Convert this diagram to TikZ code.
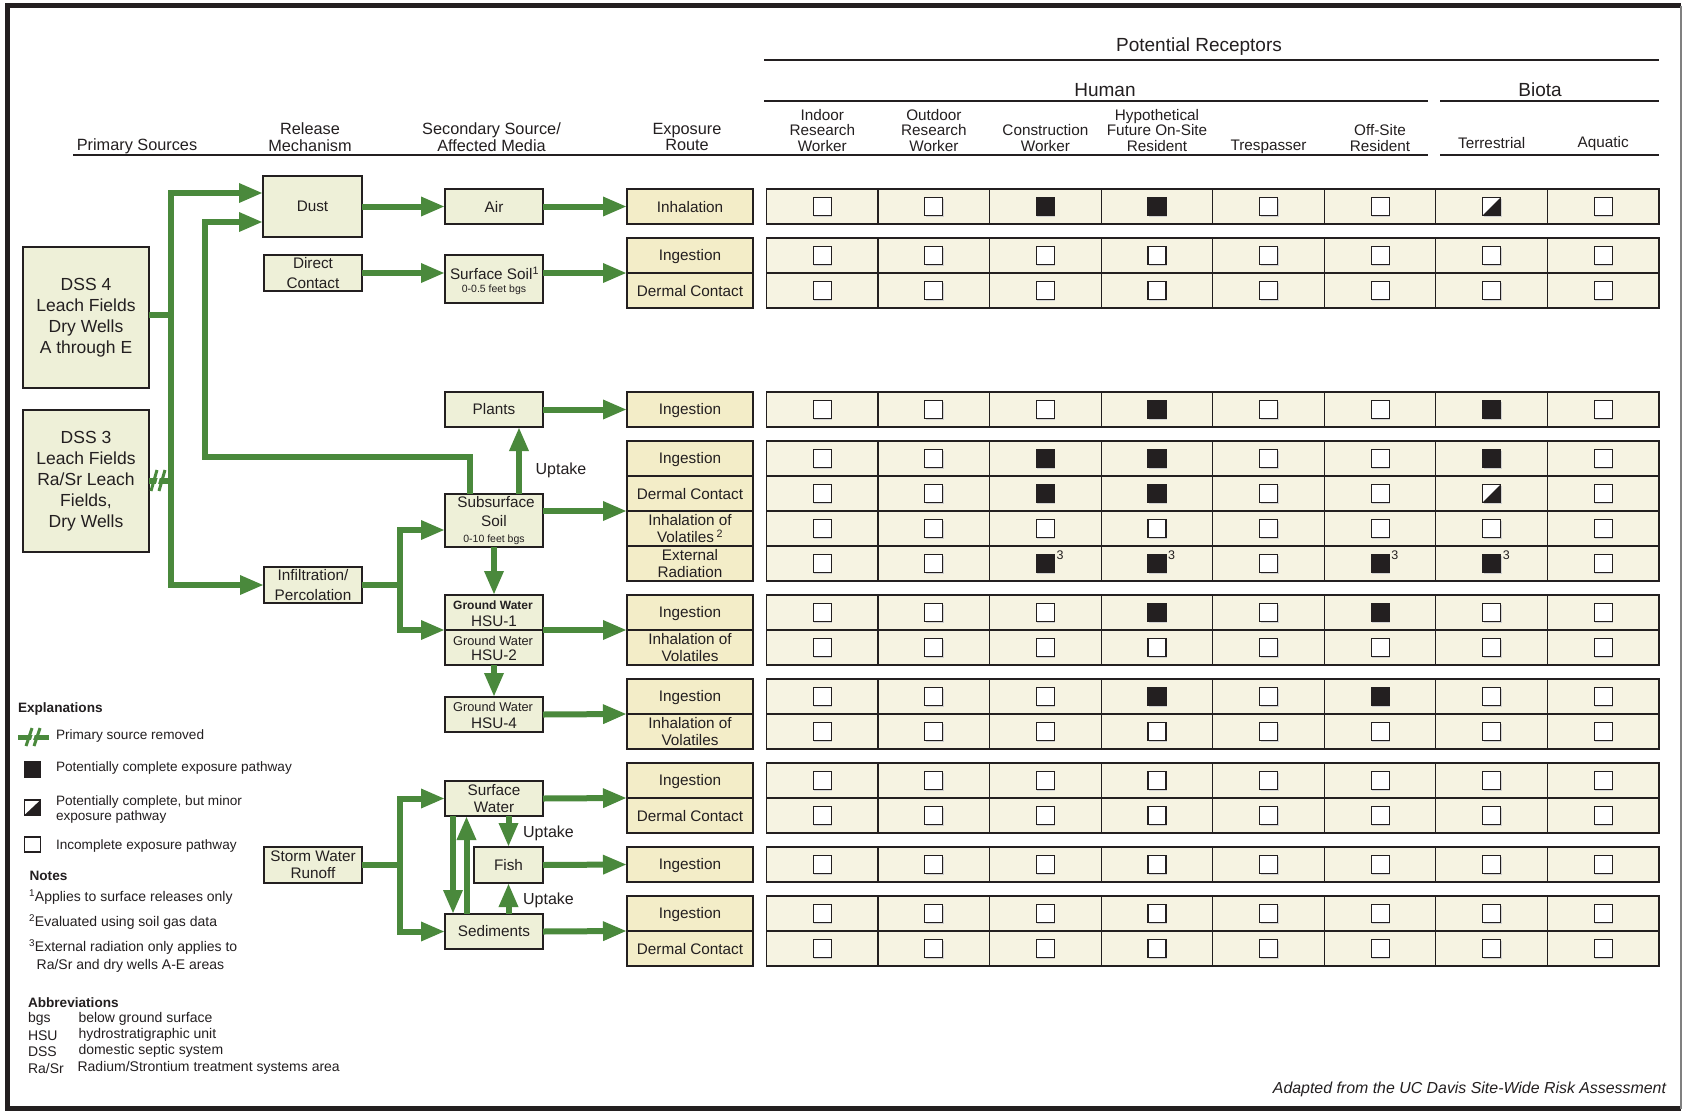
\documentclass[tikz,border=0pt]{standalone}
\usepackage{fontspec}
\setmainfont{Liberation Sans}
\usetikzlibrary{arrows.meta}
\definecolor{grn}{HTML}{4A893C}
\definecolor{ink}{HTML}{231F20}
\definecolor{boxfill}{HTML}{EEF0D8}
\definecolor{expfill}{HTML}{F3EDC8}
\definecolor{cellfill}{HTML}{F6F3E2}
\newcommand{\fsz}[2]{\fontsize{#1}{#2}\selectfont}
\tikzset{
  srcbox/.style={draw=ink, line width=1.2pt, fill=boxfill, inner sep=0pt, outer sep=0pt, align=center, text=ink, font=\fsz{15.3}{17}},
  expbox/.style={draw=ink, line width=1.2pt, fill=expfill, inner sep=0pt, outer sep=0pt, minimum width=126pt},
  lbl/.style={inner sep=0pt, outer sep=0pt, text=ink, align=center, font=\fsz{15.3}{17}},
  leg/.style={inner sep=0pt, outer sep=0pt, text=ink, align=left, anchor=west, font=\fsz{13.6}{15.6}},
  flowline/.style={draw=grn, line width=6pt},
  flowarr/.style={flowline, -{Triangle[length=24pt,width=18pt]}},
  flowboth/.style={flowline, {Triangle[length=24pt,width=18pt]}-{Triangle[length=24pt,width=18pt]}},
  cellbox/.style={fill=cellfill, draw=ink, line width=1.2pt},
  mk/.style={draw=ink, line width=1.1pt},
  divline/.style={draw=ink, line width=1.2pt},
}
\newcommand{\cellrow}[2]{%
  \foreach \cc [count=\ii from 0] in {#2} {%
    \pgfmathsetmacro{\xa}{766.5+111.56*\ii}%
    \pgfmathsetmacro{\xm}{\xa+55.78}%
    \draw[cellbox] (\xa,#1) rectangle ++(111.56,35);%
    \fill[black!18] (\xm-8,#1+9.5) rectangle ++(18,18);%
    \ifcase\cc\relax
      \filldraw[mk, fill=white] (\xm-9,#1+8.5) rectangle ++(18,18);%
    \or
      \filldraw[mk, fill=ink] (\xm-9,#1+8.5) rectangle ++(18,18);%
    \or
      \filldraw[mk, fill=white] (\xm-9,#1+8.5) rectangle ++(18,18);%
      \fill[ink] (\xm-9,#1+26.5) -- (\xm+9,#1+8.5) -- (\xm+9,#1+26.5) -- cycle;%
      \draw[mk] (\xm-9,#1+8.5) rectangle ++(18,18);%
    \or
      \filldraw[mk, fill=ink] (\xm-9,#1+8.5) rectangle ++(18,18);%
      \node[anchor=west, inner sep=0pt, font=\fsz{12.5}{13}, text=ink, name=s#1x\ii] at (\xm+11,#1+9) {3};%
    \fi
  }%
}
\begin{document}
\begin{tikzpicture}[x=1pt,y=-1pt]
\useasboundingbox (0,0) rectangle (1684,1111);
\fill[white] (0,0) rectangle (1684,1111);
% frame
\draw[ink, line width=4.5pt] (1681,5.5) -- (7.5,5.5) -- (7.5,1108.5) -- (1681,1108.5);
\draw[black!50, line width=1.5pt] (1681,5.5) -- (1681,1108.5);

% ---------- headers ----------
\node[lbl, font=\fsz{16.3}{16.7}, anchor=base] (hps) at (137,150.7) {Primary Sources};
\node[lbl, font=\fsz{16.3}{16.7}] (hrm) at (310,137) {Release\\Mechanism};
\node[lbl, font=\fsz{16.3}{16.7}] (hss) at (491.5,137) {Secondary Source/\\Affected Media};
\node[lbl, font=\fsz{16.3}{16.7}] (her) at (687,137) {Exposure\\Route};
\draw[ink, line width=2.5pt] (73,155) -- (1428,155);
\draw[ink, line width=2.5pt] (1440,155) -- (1659,155);
\node[lbl, font=\fsz{19}{20}] (hpr) at (1199,47) {Potential Receptors};
\draw[ink, line width=1.8pt] (764,60) -- (1659,60);
\node[lbl, font=\fsz{19}{20}] (hhu) at (1105,90) {Human};
\node[lbl, font=\fsz{19}{20}] (hbi) at (1540,90) {Biota};
\draw[ink, line width=1.8pt] (764,101) -- (1428,101);
\draw[ink, line width=1.8pt] (1440,101) -- (1659,101);
\node[lbl, font=\fsz{15.3}{15.5}] (c1) at (822.3,130.5) {Indoor\\Research\\Worker};
\node[lbl, font=\fsz{15.3}{15.5}] (c2) at (933.9,130.5) {Outdoor\\Research\\Worker};
\node[lbl, font=\fsz{15.3}{15.5}] (c3) at (1045.4,138) {Construction\\Worker};
\node[lbl, font=\fsz{15.3}{15.5}] (c4) at (1157,130.5) {Hypothetical\\Future On-Site\\Resident};
\node[lbl, font=\fsz{15.3}{15.5}] (c5) at (1268.5,147) {Trespasser};
\node[lbl, font=\fsz{15.3}{15.5}] (c6) at (1380,138) {Off-Site\\Resident};
\node[lbl, font=\fsz{15.3}{15.5}] (c7) at (1491.7,143.5) {Terrestrial};
\node[lbl, font=\fsz{15.3}{15.5}] (c8) at (1603.2,143.5) {Aquatic};

% ---------- receptor table ----------
\cellrow{189}{0,0,1,1,0,0,2,0}
\cellrow{238}{0,0,0,0,0,0,0,0}
\cellrow{273}{0,0,0,0,0,0,0,0}
\cellrow{392}{0,0,0,1,0,0,1,0}
\cellrow{441}{0,0,1,1,0,0,1,0}
\cellrow{476}{0,0,1,1,0,0,2,0}
\cellrow{511}{0,0,0,0,0,0,0,0}
\cellrow{546}{0,0,3,3,0,3,3,0}
\cellrow{595}{0,0,0,1,0,1,0,0}
\cellrow{630}{0,0,0,0,0,0,0,0}
\cellrow{679}{0,0,0,1,0,1,0,0}
\cellrow{714}{0,0,0,0,0,0,0,0}
\cellrow{763}{0,0,0,0,0,0,0,0}
\cellrow{798}{0,0,0,0,0,0,0,0}
\cellrow{847}{0,0,0,0,0,0,0,0}
\cellrow{896}{0,0,0,0,0,0,0,0}
\cellrow{931}{0,0,0,0,0,0,0,0}

% ---------- exposure route boxes ----------
\node[expbox, minimum height=35pt] (e1) at (690,206.5) {};
\node[expbox, minimum height=70pt] (e2) at (690,273) {};
\node[expbox, minimum height=35pt] (e3) at (690,409.5) {};
\node[expbox, minimum height=140pt] (e4) at (690,511) {};
\node[expbox, minimum height=70pt] (e5) at (690,630) {};
\node[expbox, minimum height=70pt] (e6) at (690,714) {};
\node[expbox, minimum height=70pt] (e7) at (690,798) {};
\node[expbox, minimum height=35pt] (e8) at (690,864.5) {};
\node[expbox, minimum height=70pt] (e9) at (690,931) {};
\foreach \yy/\gg in {273/e2, 476/e4, 511/e4, 546/e4, 630/e5, 714/e6, 798/e7, 931/e9}
  \draw[divline] (\gg.west |- 0,\yy) -- (\gg.east |- 0,\yy);
\node[lbl] (r1) at (690,207) {Inhalation};
\node[lbl] (r2) at (690,256.5) {Ingestion};
\node[lbl] (r3) at (690,291) {Dermal Contact};
\node[lbl] (r4) at (690,410.5) {Ingestion};
\node[lbl] (r5) at (690,459.5) {Ingestion};
\node[lbl] (r6) at (690,494) {Dermal Contact};
\node[lbl] (r7) at (690,528.5) {Inhalation of\\Volatiles\,\textsuperscript{2}};
\node[lbl] (r8) at (690,563.5) {External\\Radiation};
\node[lbl] (r9) at (690,613.5) {Ingestion};
\node[lbl] (r10) at (690,647.5) {Inhalation of\\Volatiles};
\node[lbl] (r11) at (690,697.5) {Ingestion};
\node[lbl] (r12) at (690,731.5) {Inhalation of\\Volatiles};
\node[lbl] (r13) at (690,781.5) {Ingestion};
\node[lbl] (r14) at (690,816) {Dermal Contact};
\node[lbl] (r15) at (690,865.5) {Ingestion};
\node[lbl] (r16) at (690,914.5) {Ingestion};
\node[lbl] (r17) at (690,949) {Dermal Contact};

% ---------- source / media boxes ----------
\node[srcbox, font=\fsz{17.5}{21}, minimum width=126pt, minimum height=141pt] (dss4) at (86,317.5) {DSS 4\\Leach Fields\\Dry Wells\\A through E};
\node[srcbox, font=\fsz{17.5}{21}, minimum width=126pt, minimum height=142pt] (dss3) at (86,481) {DSS 3\\Leach Fields\\Ra/Sr Leach\\Fields,\\Dry Wells};
\node[srcbox, minimum width=99pt, minimum height=61pt] (dust) at (312.5,206.5) {Dust};
\node[srcbox, font=\fsz{15.3}{19.4}, minimum width=98pt, minimum height=36pt] (dc) at (313,273) {Direct\\Contact};
\node[srcbox, font=\fsz{15.3}{19.3}, minimum width=98pt, minimum height=36pt] (infil) at (313,585) {Infiltration/\\Percolation};
\node[srcbox, font=\fsz{15.3}{17}, minimum width=98pt, minimum height=36pt] (storm) at (313,865) {Storm Water\\Runoff};
\node[srcbox, minimum width=98pt, minimum height=35pt] (air) at (494,206.5) {Air};
\node[srcbox, minimum width=98pt, minimum height=48pt] (ssoil) at (494,279) {};
\node[lbl] (ssoilA) at (494.5,273.3) {Surface Soil\textsuperscript{1}};
\node[lbl, font=\fsz{10.5}{12}] (ssoilB) at (494,289.3) {0-0.5 feet bgs};
\node[srcbox, minimum width=98pt, minimum height=35pt] (plants) at (494,409.5) {Plants};
\node[srcbox, minimum width=98pt, minimum height=53pt] (subsoil) at (494,520.5) {};
\node[lbl] (subsoilA) at (496,502) {Subsurface};
\node[lbl] (subsoilB) at (494,520.7) {Soil};
\node[lbl, font=\fsz{10.5}{12}] (subsoilC) at (494,539.3) {0-10 feet bgs};
\node[srcbox, minimum width=98pt, minimum height=35pt] (hsu1) at (494,612.5) {};
\node[lbl, font=\fsz{12}{13}\bfseries] (hsu1A) at (493,605) {Ground Water};
\node[lbl] (hsu1B) at (494,621.7) {HSU-1};
\node[srcbox, minimum width=98pt, minimum height=35pt] (hsu2) at (494,647.5) {};
\node[lbl, font=\fsz{12.8}{13}] (hsu2A) at (493,640.7) {Ground Water};
\node[lbl] (hsu2B) at (494,655.5) {HSU-2};
\node[srcbox, minimum width=98pt, minimum height=35pt] (hsu4) at (494,714.5) {};
\node[lbl, font=\fsz{12.8}{13}] (hsu4A) at (493,707.3) {Ground Water};
\node[lbl] (hsu4B) at (494,723.3) {HSU-4};
\node[srcbox, font=\fsz{15.3}{17.7}, minimum width=98pt, minimum height=35pt] (sw) at (494,798.5) {Surface\\Water};
\node[srcbox, minimum width=69pt, minimum height=36pt] (fish) at (508.5,865) {Fish};
\node[srcbox, minimum width=98pt, minimum height=35pt] (sed) at (494,931.5) {Sediments};

% ---------- flows ----------
\draw[flowboth] (dust.west |- 0,193) -- (171,193) -- (171,585) -- (infil.west);
\draw[flowline] (dss4.east |- 0,315) -- (171,315);
\draw[flowline] (dss3.east) -- (171,481);
\fill[white] (154,491) -- (160,470) -- (162,470) -- (156,491) -- cycle;
\draw[grn, line width=3pt] (151,491) -- (157,470);
\draw[grn, line width=3pt] (159,491) -- (165,470);
\draw[flowarr] (subsoil.north -| 470,0) -- (470,457) -- (205,457) -- (205,222) -- (dust.west |- 0,222);
\draw[flowarr] (dust.east) -- (air.west);
\draw[flowarr] (air.east) -- (e1.west);
\draw[flowarr] (dc.east) -- (dc.east -| ssoil.west);
\draw[flowarr] (ssoil.east |- e2.west) -- (e2.west);
\draw[flowarr] (plants.east) -- (e3.west);
\draw[flowarr] (subsoil.north -| 519,0) -- (plants.south -| 519,0);
\node[lbl, font=\fsz{16}{17}] (up1) at (561,470.5) {Uptake};
\draw[flowarr] (subsoil.east |- e4.west) -- (e4.west);
\draw[flowarr] (subsoil.south) -- (hsu1.north);
\draw[flowline] (infil.east) -- (400,585);
\draw[flowboth] (subsoil.west |- 0,530) -- (400,530) -- (400,630) -- (hsu1.south west);
\draw[flowarr] (hsu1.south east) -- (e5.west);
\draw[flowarr] (hsu2.south) -- (hsu4.north);
\draw[flowarr] (hsu4.east) -- (e6.west);
\draw[flowline] (storm.east) -- (400,865);
\draw[flowboth] (sw.west) -- (sw.west -| 400,0) -- (sed.west -| 400,0) -- (sed.west);
\draw[flowarr] (sw.east) -- (e7.west);
\draw[flowarr] (fish.east) -- (e8.west);
\draw[flowarr] (sed.east) -- (e9.west);
\draw[flowarr] (fish.north |- sw.south) -- (fish.north);
\draw[flowarr] (fish.south |- sed.north) -- (fish.south);
\node[lbl, font=\fsz{16}{17}] (up2) at (548.5,833) {Uptake};
\node[lbl, font=\fsz{16}{17}] (up3) at (548.5,900) {Uptake};
\draw[flowarr] (sw.south -| 453,0) -- (sed.north -| 453,0);
\draw[flowarr] (sed.north -| 466.5,0) -- (sw.south -| 466.5,0);

% ---------- legend ----------
\node[leg, font=\fsz{13.6}{15.6}\bfseries] (lexp) at (18,709) {Explanations};
\draw[flowline, line width=5pt] (18,737) -- (49,737);
\fill[white] (29,746) -- (35,728) -- (37,728) -- (31,746) -- cycle;
\draw[grn, line width=3pt] (26,746) -- (32,728);
\draw[grn, line width=3pt] (34,746) -- (40,728);
\node[leg] (l1) at (56,736) {Primary source removed};
\filldraw[mk, fill=ink] (24.5,762) rectangle (40.5,777);
\node[leg] (l2) at (56,768) {Potentially complete exposure pathway};
\filldraw[mk, fill=white] (24.5,800) rectangle (40.5,815);
\fill[ink] (24.5,815) -- (40.5,800) -- (40.5,815) -- cycle;
\draw[mk] (24.5,800) rectangle (40.5,815);
\node[leg] (l3) at (56,809.5) {Potentially complete, but minor\\exposure pathway};
\filldraw[mk, fill=white] (24.5,837) rectangle (40.5,852);
\node[leg] (l4) at (56,845.7) {Incomplete exposure pathway};
\node[leg, font=\fsz{13.6}{15.6}\bfseries] (lnotes) at (29.6,876) {Notes};
\node[leg, font=\fsz{14}{16}] (n1) at (29,897.3) {\textsuperscript{1}Applies to surface releases only};
\node[leg, font=\fsz{14}{16}] (n2) at (29,922.3) {\textsuperscript{2}Evaluated using soil gas data};
\node[leg, font=\fsz{14}{16}] (n3) at (29,947.3) {\textsuperscript{3}External radiation only applies to};
\node[leg, font=\fsz{14}{16}] (n3b) at (36.7,966.3) {Ra/Sr and dry wells A-E areas};
\node[leg, font=\fsz{13.6}{15.6}\bfseries] (labb) at (28,1002.3) {Abbreviations};
\node[leg, font=\fsz{14}{16}] (a1) at (28,1019.3) {bgs};
\node[leg, font=\fsz{14}{16}] (a1d) at (78.5,1019.3) {below ground surface};
\node[leg, font=\fsz{14}{16}] (a2) at (28,1035.3) {HSU};
\node[leg, font=\fsz{14}{16}] (a2d) at (78.5,1035.3) {hydrostratigraphic unit};
\node[leg, font=\fsz{14}{16}] (a3) at (28,1051.3) {DSS};
\node[leg, font=\fsz{14}{16}] (a3d) at (78.5,1051.3) {domestic septic system};
\node[leg, font=\fsz{14}{16}] (a4) at (28,1068.3) {Ra/Sr};
\node[leg, font=\fsz{14}{16}] (a4d) at (77.6,1068.3) {Radium/Strontium treatment systems area};
\node[lbl, anchor=east, font=\fsz{15.9}{17}\itshape] (credit) at (1666,1089) {Adapted from the UC Davis Site-Wide Risk Assessment};
\end{tikzpicture}
\end{document}
